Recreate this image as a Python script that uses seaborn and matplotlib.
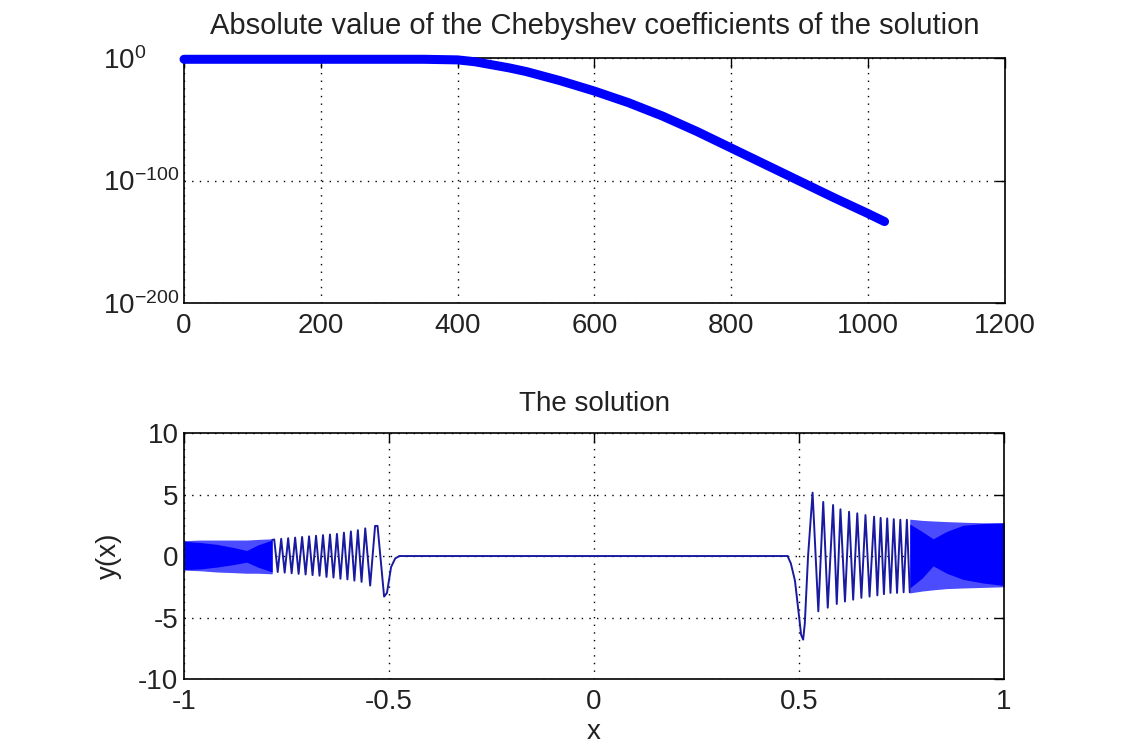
import matplotlib
matplotlib.use("Agg")
import matplotlib.pyplot as plt
import matplotlib.ticker as mticker
import numpy as np
import seaborn as sns

# Chebyshev coefficient magnitudes (log10)
coef_index = [0, 50, 100, 150, 200, 250, 300, 350, 400, 425, 450, 475, 500,
              550, 600, 650, 700, 750, 800, 850, 900, 950, 1000, 1024]
coef_log10 = [-1.0, -1.0, -1.0, -1.0, -1.0, -1.0, -1.0, -1.0, -1.5, -3.0,
              -5.5, -8.0, -11.0, -18.5, -27, -36.5, -47.5, -60, -73.5, -87,
              -100.5, -114, -127, -133.5]

# resolved part of the solution (extremes of the oscillation + flat middle)
sol_x = [-0.785, -0.780, -0.7715, -0.763, -0.7545, -0.746, -0.7375, -0.729,
         -0.7205, -0.712, -0.7035, -0.695, -0.6865, -0.678, -0.6695, -0.661,
         -0.6525, -0.644, -0.6355, -0.627, -0.6185, -0.610, -0.6015, -0.593,
         -0.5845, -0.576, -0.567, -0.558, -0.546, -0.534, -0.528, -0.512,
         -0.505, -0.495, -0.485, -0.475,
         0.472, 0.480, 0.490, 0.500, 0.505, 0.510, 0.514, 0.522, 0.533,
         0.547, 0.559, 0.570, 0.583, 0.592, 0.601, 0.612, 0.622, 0.632,
         0.642, 0.652, 0.662, 0.672, 0.683, 0.691, 0.699, 0.707, 0.715,
         0.723, 0.731, 0.739, 0.747, 0.755, 0.763, 0.770]
sol_y = [1.3, 1.35, -1.3, 1.4, -1.35, 1.45, -1.4, 1.5, -1.45, 1.55, -1.5,
         1.6, -1.55, 1.65, -1.6, 1.7, -1.7, 1.75, -1.75, 1.8, -1.85, 1.9,
         -1.9, 2.0, -2.0, 2.1, -2.1, 2.25, -2.4, 2.45, 2.45, -3.3, -3.0,
         -0.9, -0.2, 0.0,
         0.0, -0.6, -2.0, -4.9, -6.4, -6.8, -5.5, 0.0, 5.15, -4.5, 4.4,
         -4.2, 4.15, -3.9, 3.8, -3.7, 3.6, -3.55, 3.47, -3.4, 3.33, -3.3,
         3.2, -3.2, 3.1, -3.1, 3.06, -3.0, 3.0, -3.0, 2.95, -2.95, 2.95,
         -2.95]

# dense (unresolved) oscillation bands: outer envelope and solid core
left_x = [-1.0, -0.96, -0.92, -0.88, -0.847, -0.82, -0.785]
left_outer_top = [1.25, 1.3, 1.3, 1.3, 1.3, 1.35, 1.4]
left_outer_bot = [-1.15, -1.2, -1.3, -1.35, -1.4, -1.4, -1.45]
left_core_top = [1.2, 1.1, 0.95, 0.7, 0.45, 0.9, 1.3]
left_core_bot = [-1.1, -1.05, -0.9, -0.7, -0.5, -0.9, -1.3]

right_x = [0.77, 0.80, 0.827, 0.86, 0.90, 0.95, 1.0]
right_outer_top = [3.0, 2.9, 2.85, 2.8, 2.75, 2.7, 2.7]
right_outer_bot = [-3.0, -2.85, -2.75, -2.65, -2.6, -2.55, -2.5]
right_core_top = [2.6, 2.0, 1.4, 2.0, 2.5, 2.65, 2.7]
right_core_bot = [-2.6, -1.8, -0.8, -1.4, -1.9, -2.2, -2.4]

sns.set_style("white")
plt.rcParams["font.family"] = ["Liberation Sans", "DejaVu Sans"]
plt.rcParams["mathtext.fontset"] = "custom"
plt.rcParams["mathtext.rm"] = "Liberation Sans"
plt.rcParams["mathtext.it"] = "Liberation Sans"
plt.rcParams["axes.unicode_minus"] = False

text_color = "#222222"
blue = "#0000ff"
fs = 20

fig = plt.figure(figsize=(11.38, 7.52), dpi=100)
ax1 = fig.add_axes([0.1617, 0.597, 0.7214, 0.3258])
ax2 = fig.add_axes([0.1617, 0.0971, 0.7206, 0.327])

# top panel
coef_abs = 10.0 ** np.array(coef_log10)
sns.lineplot(x=coef_index, y=coef_abs, ax=ax1, color=blue, linewidth=6.5,
             estimator=None, clip_on=False, solid_capstyle="round", zorder=3)
ax1.set_yscale("log")
ax1.set_xlim(0, 1200)
ax1.set_ylim(1e-200, 1e0)
ax1.set_xticks([0, 200, 400, 600, 800, 1000, 1200])
ax1.set_yticks([1e-200, 1e-100, 1e0])
ax1.yaxis.set_minor_locator(mticker.NullLocator())
ax1.set_title("Absolute value of the Chebyshev coefficients of the solution",
              fontsize=21, color=text_color, pad=17)

# bottom panel
ax2.fill_between(left_x, left_outer_bot, left_outer_top, color=blue,
                 alpha=0.7, linewidth=0, zorder=2)
ax2.fill_between(left_x, left_core_bot, left_core_top, color=blue,
                 linewidth=0, zorder=2)
ax2.fill_between(right_x, right_outer_bot, right_outer_top, color=blue,
                 alpha=0.7, linewidth=0, zorder=2)
ax2.fill_between(right_x, right_core_bot, right_core_top, color=blue,
                 linewidth=0, zorder=2)
sns.lineplot(x=sol_x, y=sol_y, ax=ax2, color="#1a1aa0", linewidth=1.4,
             estimator=None, sort=False, zorder=3)
ax2.set_xlim(-1, 1)
ax2.set_ylim(-10, 10)
ax2.set_xticks([-1, -0.5, 0, 0.5, 1])
ax2.set_xticklabels(["-1", "-0.5", "0", "0.5", "1"])
ax2.set_yticks([-10, -5, 0, 5, 10])
ax2.set_title("The solution", fontsize=fs, color=text_color, pad=16)
ax2.set_xlabel("x", fontsize=fs, color=text_color, labelpad=3)
ax2.set_ylabel("y(x)", fontsize=fs, color=text_color, labelpad=12)

for ax in (ax1, ax2):
    ax.grid(True, linestyle=(0, (1, 4.5)), color="black", linewidth=1.0)
    ax.set_axisbelow(True)
    ax.tick_params(direction="in", length=7, width=1, top=True, right=True,
                   labelsize=fs, colors="black", labelcolor=text_color, pad=4)
    ax.tick_params(axis="x", pad=7)
    for sp in ax.spines.values():
        sp.set_color("black")
        sp.set_linewidth(1.2)
        sp.set_visible(True)

# MATLAB lines the "10" of the exponent labels up on the left
ax1.tick_params(axis="y", pad=58)
for lab in ax1.get_yticklabels():
    lab.set_horizontalalignment("left")

fig.savefig("out.png", dpi=100, facecolor="white")
